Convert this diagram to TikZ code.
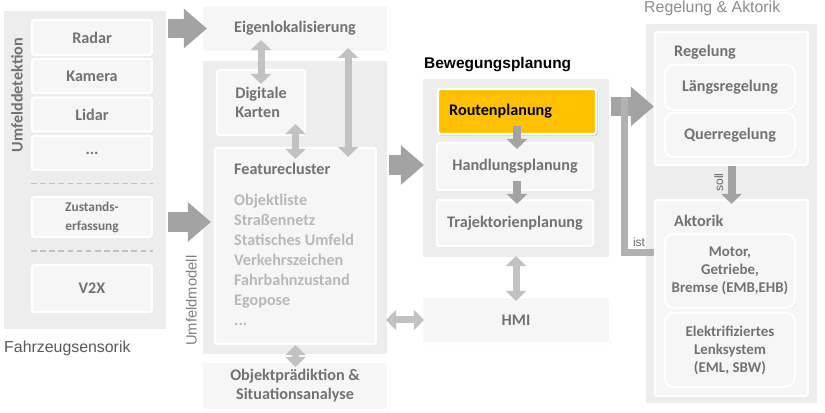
\documentclass[tikz,border=0pt]{standalone}
\usepackage{fontspec}
\setmainfont{Carlito}
\newfontfamily\arialfont{Liberation Sans}
\usetikzlibrary{arrows.meta}
\usetikzlibrary{calc}
\usetikzlibrary{shadows}

\definecolor{panelgray}{HTML}{EDEDED}
\definecolor{boxgray}{HTML}{F6F6F6}
\definecolor{labelgray}{HTML}{727272}
\definecolor{listgray}{HTML}{B8B8B8}
\definecolor{arrowgray}{HTML}{A3A3A3}
\definecolor{linkgray}{HTML}{C2C2C2}
\definecolor{routeorange}{HTML}{FFC000}

\tikzset{
  sz/.style 2 args={minimum width=#1*0.025cm, minimum height=#2*0.025cm},
  panel/.style={draw=white, line width=1.5pt, fill=panelgray, inner sep=0pt,
    drop shadow={shadow xshift=0.8pt, shadow yshift=-0.8pt, opacity=0.15}},
  box/.style={draw=white, line width=1.5pt, fill=boxgray, rounded corners=1.5pt,
    inner sep=1pt, text=labelgray, align=center,
    font=\bfseries\fontsize{11.5}{13.5}\selectfont,
    drop shadow={shadow xshift=0.8pt, shadow yshift=-0.8pt, opacity=0.18}},
  roundbox/.style={box, rounded corners=6pt},
  heading/.style={inner sep=0pt, text=labelgray, font=\bfseries\fontsize{11.5}{13.5}\selectfont},
  listtext/.style={inner sep=0pt, text=listgray, align=left,
    font=\bfseries\fontsize{11.5}{14.2}\selectfont},
  title/.style={inner sep=0pt, font=\arialfont\fontsize{11.3}{13}\selectfont},
  bigarrow/.style={draw=arrowgray, line width=0.475cm,
    -{Triangle[length=0.575cm,width=0.95cm]}},
  linkarrow/.style={draw=linkgray, line width=0.175cm,
    {Triangle[length=0.25cm,width=0.5cm]}-{Triangle[length=0.25cm,width=0.5cm]}},
  steparrow/.style={draw=arrowgray, line width=0.2cm,
    -{Triangle[length=0.25cm,width=0.5cm]}},
  istline/.style={draw=arrowgray!85, line width=0.175cm},
}

\begin{document}
\begin{tikzpicture}[x=0.025cm, y=-0.025cm]
  \useasboundingbox (0,0) rectangle (825,413);

  % Fahrzeugsensorik
  \node[panel, sz={164}{320}] (sensorik) at (85,170) {};
  \node[box, sz={120}{35}] (radar) at (92,37.5) {Radar};
  \node[box, sz={120}{34}] (kamera) at (92,76) {Kamera};
  \node[box, sz={120}{34}] (lidar) at (92,114.5) {Lidar};
  \node[box, sz={120}{34}] (dots) at (92,153) {...};
  \node[box, sz={120}{40}, font=\bfseries\fontsize{9.5}{13.5}\selectfont] (zustand) at (92,217) {Zustands-\\erfassung};
  \node[box, sz={120}{47}] (vzx) at (92,288.5) {V2X};
  \draw[linkgray, line width=1pt, dash pattern=on 4pt off 2.5pt]
    ($(dots.south west)!0.5!(zustand.north west)$) -- ($(dots.south east)!0.5!(zustand.north east)$);
  \draw[linkgray, line width=1pt, dash pattern=on 4pt off 2.5pt]
    ($(zustand.south west)!0.5!(vzx.north west)$) -- ($(zustand.south east)!0.5!(vzx.north east)$);
  \path ($(radar.north west)!0.5!(dots.south west)$) ++(-14,0)
    node[heading, rotate=90] (detektion) {Umfelddetektion};
  \node[title, anchor=base west, text=black!65] (sensortitle) at ([shift={(2,21)}]sensorik.south west) {Fahrzeugsensorik};

  % Umfeldmodell
  \node[box, sz={186}{47}] (eigen) at (295,28.5) {Eigenlokalisierung};
  \node[panel, sz={186}{295}] (umfeld) at (295,207.5) {};
  \node[box, sz={88}{65}, align=left] (karten) at (261,102.5) {Digitale\\Karten};
  \node[box, sz={161}{196}] (feature) at (295.5,246) {};
  \node[heading, anchor=west] (featuretitle) at ([shift={(20,22)}]feature.north west) {Featurecluster};
  \node[listtext, anchor=north west] (featurelist) at ([shift={(20,47)}]feature.north west)
    {Objektliste\\Straßennetz\\Statisches Umfeld\\Verkehrszeichen\\Fahrbahnzustand\\Egopose\\...};
  \node[title, font=\arialfont\fontsize{10.5}{12}\selectfont, text=black!50, rotate=90, anchor=south west]
    (umfeldtitle) at ([shift={(-4,-10)}]umfeld.south west) {Umfeldmodell};
  \node[box, sz={186}{48}] (objekt) at (295,386) {Objektprädiktion \&\\Situationsanalyse};

  % Bewegungsplanung
  \node[panel, sz={188}{180}] (bewegung) at (516,168) {};
  \node[title, font=\arialfont\bfseries\fontsize{11}{13}\selectfont, anchor=base west]
    (bewegungtitle) at ([shift={(3,-8)}]bewegung.north west) {Bewegungsplanung};
  \node[box, fill=routeorange, sz={158}{45},
    drop shadow={shadow xshift=1pt, shadow yshift=-1pt, opacity=0.45}] (routen) at (517,111.5) {};
  \node[heading, text=black, anchor=west] (routentxt) at ([shift={(12,0)}]routen.west) {Routenplanung};
  \node[box, sz={156}{47}] (handlung) at (515,166.5) {Handlungsplanung};
  \node[box, sz={156}{46}] (trajekt) at (515,223) {Trajektorienplanung};
  \node[box, sz={188}{46}] (hmi) at (516,320) {HMI};

  % Regelung & Aktorik
  \node[panel, sz={173}{381}] (regelakt) at (731.5,213.5) {};
  \node[title, text=black!45, anchor=base west] (regeltitle) at ([shift={(0,-9)}]regelakt.north west) {Regelung \& Aktorik};
  \node[box, sz={153}{133}] (regelung) at (731.5,98.5) {};
  \node[heading, anchor=west] (regelungtxt) at ([shift={(20,21)}]regelung.north west) {Regelung};
  \node[roundbox, sz={130}{45}] (laengs) at (730,87.5) {Längsregelung};
  \node[roundbox, sz={130}{44}] (quer) at (730,135) {Querregelung};
  \node[box, sz={153}{196}] (aktorik) at (731.5,298) {};
  \node[heading, anchor=west] (aktoriktxt) at ([shift={(20,22)}]aktorik.north west) {Aktorik};
  \node[roundbox, sz={130}{74}, font=\bfseries\fontsize{10.6}{12.8}\selectfont] (motor) at (730,271)
    {Motor,\\Getriebe,\\Bremse (EMB,EHB)};
  \node[roundbox, sz={130}{74}, font=\bfseries\fontsize{10.6}{12.8}\selectfont] (lenk) at (730,350)
    {Elektrifiziertes\\Lenksystem\\(EML, SBW)};

  % Datenfluss
  \draw[bigarrow, shorten >=-0.15cm] (sensorik.east |- eigen) -- (eigen.west);
  \draw[bigarrow, shorten >=-0.25cm] ($(sensorik.east |- zustand)+(0,5)$) -- ($(umfeld.west |- zustand)+(0,5)$);
  \draw[bigarrow, shorten >=-0.075cm] ($(umfeld.east |- bewegung)+(0,-3)$) -- ($(bewegung.west)+(0,-3)$);
  \draw[bigarrow] ($(bewegung.east |- regelung)+(0,8)$) -- ($(regelung.west)+(0,8)$);
  \draw[istline] ($(aktorik.north west)+(0,54)$) -| ($(bewegung.east |- regelung)+(13,-1)$)
    node[pos=0.25, above, inner sep=2pt, font=\arialfont\fontsize{8.5}{10}\selectfont, text=black!60] {ist};
  \draw[steparrow, shorten >=-0.125cm] (regelung.south) -- (aktorik.north)
    node[midway, rotate=90, anchor=south, inner sep=3pt, font=\arialfont\fontsize{8.5}{10}\selectfont, text=black!60] {soll};
  \draw[steparrow, shorten <=-0.225cm, shorten >=-0.175cm] (routen.south) -- (routen.south |- handlung.north);
  \draw[steparrow, shorten <=-0.25cm, shorten >=-0.125cm] (handlung.south -| routen.south) -- (trajekt.north -| routen.south);

  % Verknuepfungen
  \draw[linkarrow, shorten <=-0.325cm, shorten >=-0.375cm] (eigen.south -| karten) -- (karten.north);
  \draw[linkarrow, shorten <=-0.3cm, shorten >=-0.3cm] (karten.south -| feature.north) -- (feature.north);
  \draw[linkarrow, shorten <=-0.125cm, shorten >=-0.25cm] (eigen.south -| feature.62) -- (feature.62);
  \draw[linkarrow, shorten >=-0.15cm] (feature.south) -- (feature.south |- objekt.north);
  \draw[linkarrow, shorten <=-0.075cm, shorten >=-0.075cm] (umfeld.east |- hmi) -- (hmi.west);
  \draw[linkarrow, shorten <=-0.075cm, shorten >=-0.125cm] (bewegung.south -| hmi) -- (hmi.north);
\end{tikzpicture}
\end{document}
